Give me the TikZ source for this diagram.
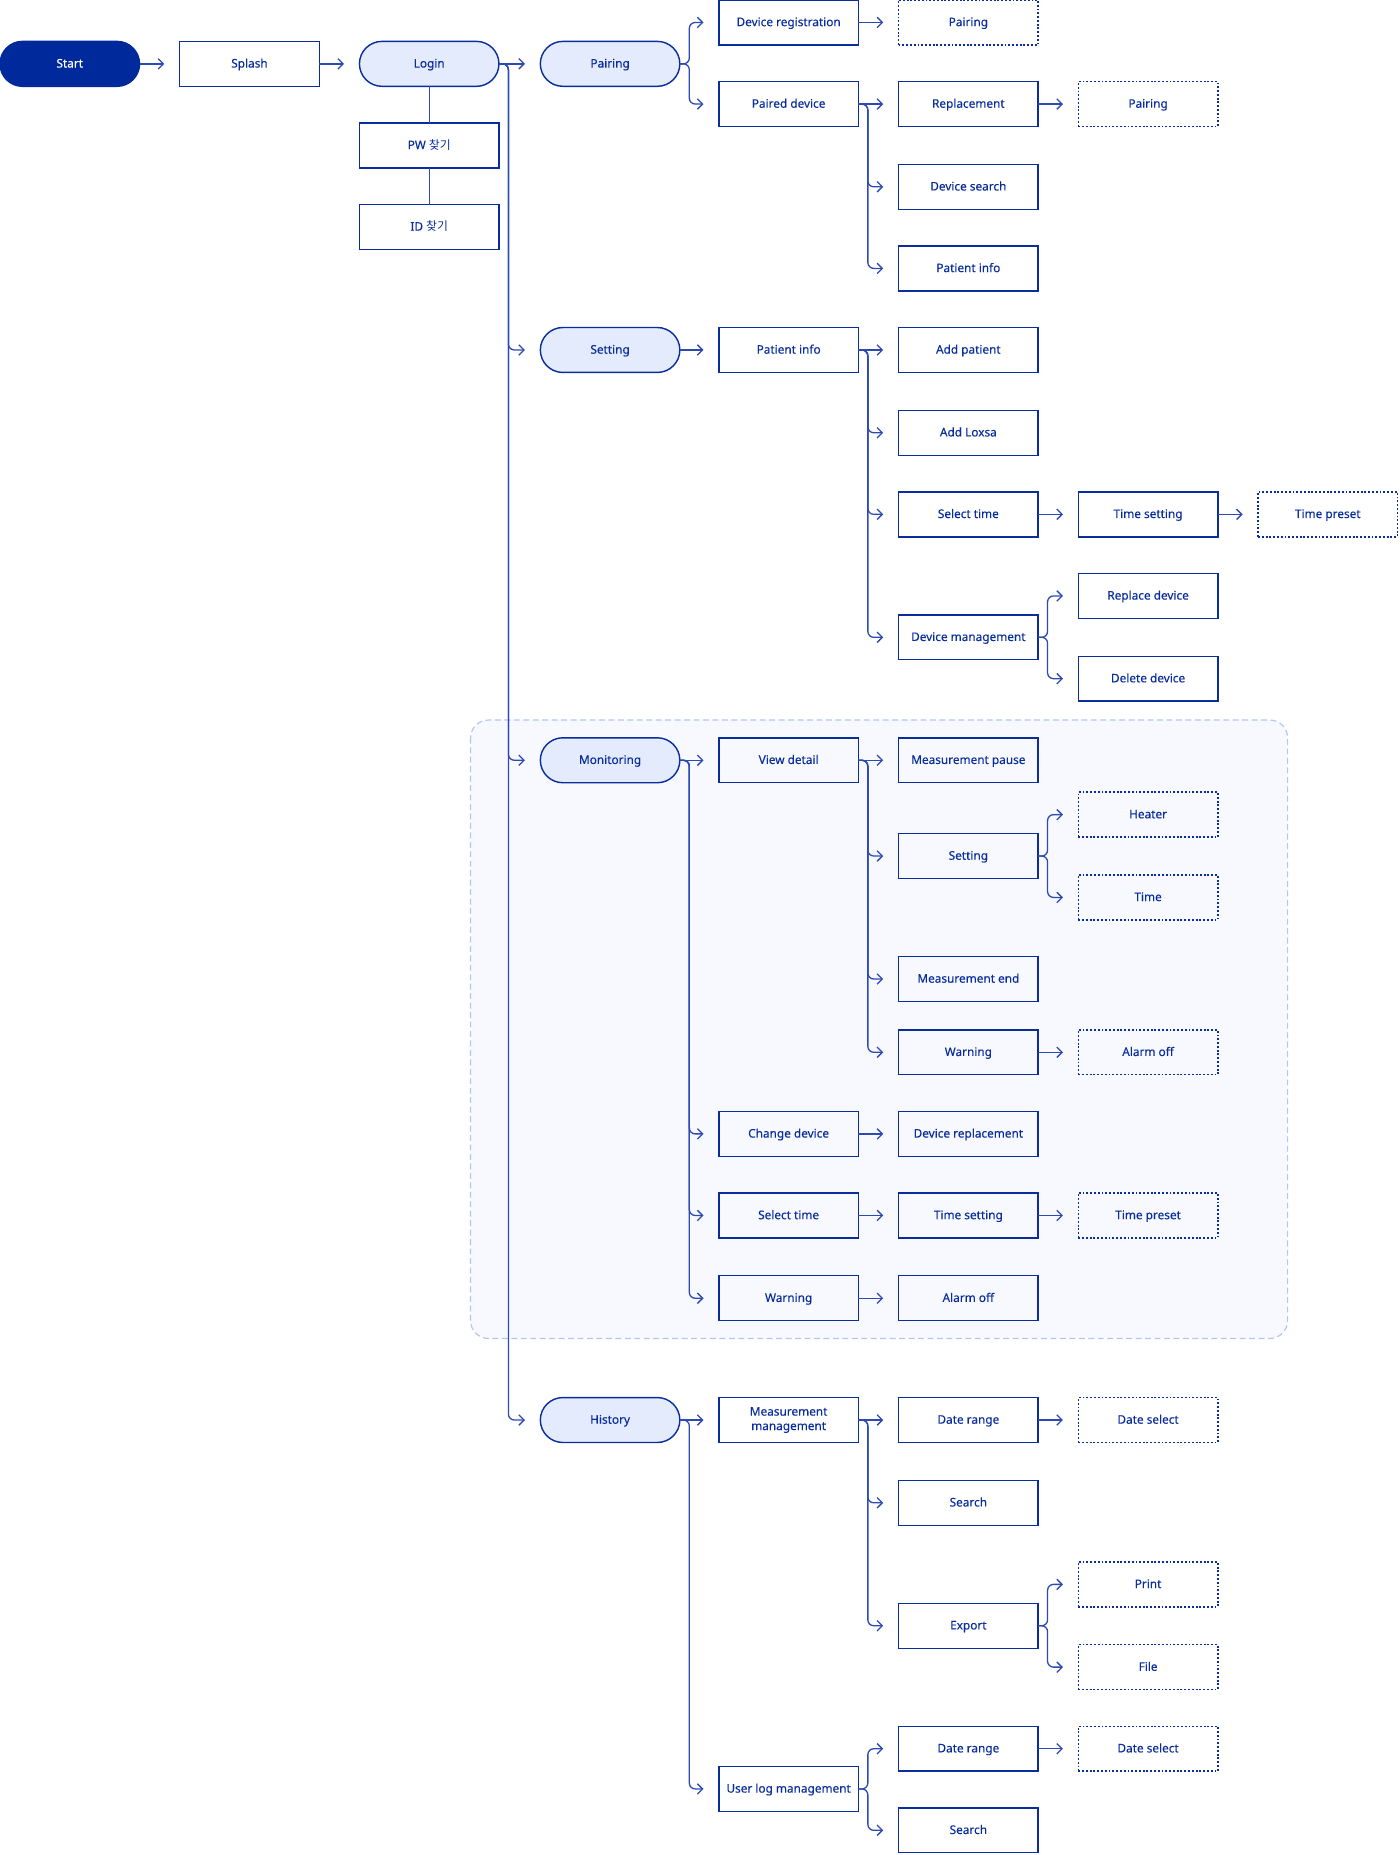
\documentclass[tikz,border=0pt]{standalone}
\usepackage{fontspec}
\setmainfont{Noto Sans}[FakeBold=0.25]
\newfontfamily\txtfont{Noto Sans}[FakeBold=0.25]
\newfontfamily\krfont{Noto Sans CJK KR}
\usetikzlibrary{arrows.meta}
\definecolor{navy}{HTML}{0A2D9E}
\definecolor{startfill}{HTML}{002A9C}
\definecolor{pillfill}{HTML}{E4EBFD}
\definecolor{connc}{HTML}{2C4AB2}
\definecolor{grpline}{HTML}{B3C5F3}
\definecolor{grpfill}{HTML}{F7F9FE}
\tikzset{
  base0/.style={minimum width=59pt, minimum height=19pt, inner sep=0pt, outer sep=0pt,
    line width=0.6pt, draw=navy, text=navy, align=center,
    font=\txtfont\fontsize{5.0pt}{6.1pt}\selectfont},
  base/.style={base0, text height=3.7pt, text depth=0.6pt},
  box/.style={base},
  box2/.style={base0},
  dbox/.style={base, dash pattern=on 0.8pt off 0.8pt},
  pill/.style={base, fill=pillfill, rounded corners=9.5pt},
  startpill/.style={base, fill=startfill, draw=startfill, text=white, rounded corners=9.5pt},
  conn/.style={draw=connc, line width=0.55pt, -{Straight Barb[length=2.2pt,width=4.4pt]}},
  plainline/.style={draw=connc, line width=0.55pt},
  branch/.style={conn, rounded corners=2.5pt},
  group/.style={draw=grpline, fill=grpfill, line width=0.5pt, dash pattern=on 2.5pt off 1.5pt, rounded corners=7.5pt}
}
\begin{document}
\begin{tikzpicture}[x=0.5pt,y=-0.5pt]
\useasboundingbox (0,0) rectangle (1184,1568.9);
% monitoring group
\draw[group] (398,609) rectangle (1089,1132);
% column 0-3
\node[startpill] (start) at (59,54) {Start};
\node[box] (splash) at (211,54) {Splash};
\node[pill] (login) at (363,54) {Login};
\node[box] (pw) at (363,123) {PW {\krfont 찾기}};
\node[box] (idf) at (363,192) {ID {\krfont 찾기}};
\node[pill] (pairing) at (516,54) {Pairing};
\node[pill] (setting) at (516,296) {Setting};
\node[pill] (monitoring) at (516,643) {Monitoring};
\node[pill] (history) at (516,1201) {History};
% pairing branch
\node[box] (dreg) at (667,19) {Device registration};
\node[dbox] (pairdot) at (819,19) {Pairing};
\node[box] (paired) at (667,88) {Paired device};
\node[box] (repl) at (819,88) {Replacement};
\node[dbox] (pairdot2) at (971,88) {Pairing};
\node[box] (dsearch) at (819,158) {Device search};
\node[box] (pinfo1) at (819,227) {Patient info};
% setting branch
\node[box] (pinfo2) at (667,296) {Patient info};
\node[box] (addp) at (819,296) {Add patient};
\node[box] (addl) at (819,366) {Add Loxsa};
\node[box] (selt1) at (819,435) {Select time};
\node[box] (tset1) at (971,435) {Time setting};
\node[dbox] (tpre1) at (1123,435) {Time preset};
\node[box] (devm) at (819,539) {Device management};
\node[box] (repd) at (971,504) {Replace device};
\node[box] (deld) at (971,574) {Delete device};
% monitoring branch
\node[box] (vdet) at (667,643) {View detail};
\node[box] (mpause) at (819,643) {Measurement pause};
\node[box] (mset) at (819,724) {Setting};
\node[dbox] (heater) at (971,689) {Heater};
\node[dbox] (mtime) at (971,759) {Time};
\node[box] (mend) at (819,828) {Measurement end};
\node[box] (mwarn1) at (819,890) {Warning};
\node[dbox] (aoff1) at (971,890) {Alarm off};
\node[box] (chdev) at (667,959) {Change device};
\node[box] (drepl) at (819,959) {Device replacement};
\node[box] (selt2) at (667,1028) {Select time};
\node[box] (tset2) at (819,1028) {Time setting};
\node[dbox] (tpre2) at (971,1028) {Time preset};
\node[box] (mwarn2) at (667,1098) {Warning};
\node[box] (aoff2) at (819,1098) {Alarm off};
% history branch
\node[box2] (mm) at (667,1201) {Measurement\\management};
\node[box] (dr1) at (819,1201) {Date range};
\node[dbox] (ds1) at (971,1201) {Date select};
\node[box] (srch1) at (819,1271) {Search};
\node[box] (export) at (819,1375) {Export};
\node[dbox] (print) at (971,1340) {Print};
\node[dbox] (file) at (971,1410) {File};
\node[box] (ulog) at (667,1513) {User log management};
\node[box] (dr2) at (819,1479) {Date range};
\node[dbox] (ds2) at (971,1479) {Date select};
\node[box] (srch2) at (819,1548) {Search};
% plain lines
\draw[plainline] (login.south) -- (pw.north);
\draw[plainline] (pw.south) -- (idf.north);
% straight arrows
\foreach \a/\b in {start/splash, splash/login, login/pairing, dreg/pairdot, paired/repl,
  repl/pairdot2, setting/pinfo2, pinfo2/addp, selt1/tset1, tset1/tpre1, monitoring/vdet,
  vdet/mpause, mwarn1/aoff1, chdev/drepl, selt2/tset2, tset2/tpre2, mwarn2/aoff2,
  history/mm, mm/dr1, dr1/ds1, dr2/ds2}
  \draw[conn] (\a.east) -- ([xshift=-6.5pt]\b.west);
% branching arrows
\foreach \a/\b in {login/setting, login/monitoring, login/history, pairing/dreg, pairing/paired,
  paired/dsearch, paired/pinfo1, pinfo2/addl, pinfo2/selt1, pinfo2/devm, devm/repd, devm/deld,
  monitoring/chdev, monitoring/selt2, monitoring/mwarn2, vdet/mset, vdet/mend, vdet/mwarn1,
  mset/heater, mset/mtime, history/ulog, mm/srch1, mm/export, export/print, export/file,
  ulog/dr2, ulog/srch2}
  \draw[branch] (\a.east) -- ++(4pt,0) |- ([xshift=-6.5pt]\b.west);
\end{tikzpicture}
\end{document}
